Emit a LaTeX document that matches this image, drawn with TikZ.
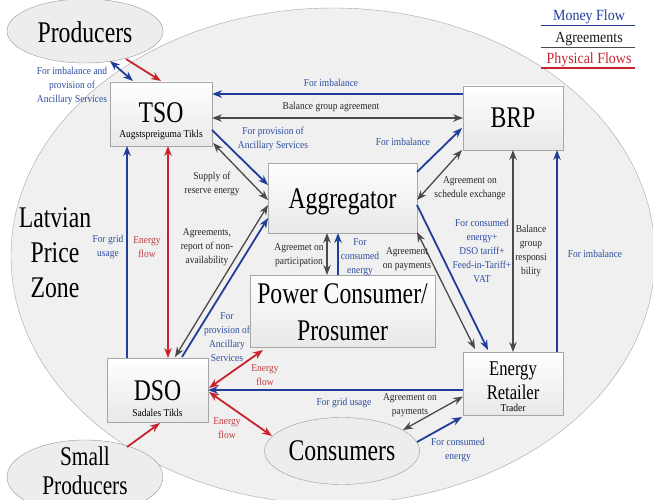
\documentclass[tikz,border=0pt]{standalone}
\usepackage{fontspec}
\setmainfont{Liberation Serif}[FakeStretch=0.9]
\newfontfamily\cfont{Liberation Serif}[FakeStretch=0.79]
\usetikzlibrary{arrows.meta,calc,shapes.geometric}
\definecolor{mblue}{HTML}{1F3D99}
\definecolor{mred}{HTML}{C8232C}
\definecolor{mgray}{HTML}{4A4A4A}
\definecolor{lblue}{HTML}{2B4C9E}
\definecolor{lred}{HTML}{C23A3A}
\tikzset{
 box/.style={draw=black!35, top color=white, bottom color=black!9, inner sep=0pt, outer sep=0pt},
 oval/.style={ellipse, draw=black!40, fill=black!7, inner sep=0pt, outer sep=0pt},
 big/.style={font=\cfont\fontsize{30}{36}\selectfont, inner sep=0pt, anchor=base},
 mid/.style={font=\cfont\fontsize{21}{25}\selectfont, inner sep=0pt, anchor=base},
 sm/.style={font=\fontsize{10.5}{14}\selectfont, align=center, inner sep=0pt},
 sub/.style={font=\fontsize{10.5}{14}\selectfont, inner sep=0pt, anchor=base},
 bl/.style={sm, text=lblue},
 rl/.style={sm, text=lred},
 gl/.style={sm, text=black!85},
 leg/.style={font=\fontsize{15.5}{18}\selectfont, inner sep=0pt},
 money/.style={draw=mblue, line width=1.8pt},
 agr/.style={draw=mgray, line width=1.3pt},
 phys/.style={draw=mred, line width=1.8pt},
 >={Stealth[length=10pt,width=7.5pt]},
}
\begin{document}
\begin{tikzpicture}[x=1pt,y=-1pt]
\useasboundingbox (0,0) rectangle (653,500);
\clip (0,0) rectangle (653,500);
\fill[white] (0,0) rectangle (653,500);
% zone
\node[ellipse, draw=black!35, fill=black!6, minimum width=644, minimum height=496, inner sep=0pt] (zone) at (333,256) {};
\node[big] (lpz1) at (55,227) {Latvian};
\node[big] (lpz2) at (55,262) {Price};
\node[big] (lpz3) at (55,297.5) {Zone};
% legend
\node[leg, text=mblue] (lg1) at (589,17) {Money Flow};
\node[leg, text=black!90] (lg2) at (589,39) {Agreements};
\node[leg, text=mred] (lg3) at (589,60) {Physical Flows};
\draw[mblue, line width=1.5pt] (541,25.5) -- (635,25.5);
\draw[mgray, line width=1.5pt] (541,47.5) -- (635,47.5);
\draw[mred, line width=1.5pt] (541,68) -- (635,68);
% outer ovals
\node[oval, minimum width=156, minimum height=64] (prod) at (85,31) {};
\node[big] (prodt) at (85,43) {Producers};
\node[oval, minimum width=155, minimum height=67] (cons) at (342,451) {};
\node[big] (const) at (342,460) {Consumers};
\node[oval, minimum width=156, minimum height=74] (sprod) at (85,477) {};
\node[big, font=\cfont\fontsize{27}{30}\selectfont] (sprodt1) at (85,465.5) {Small};
\node[big, font=\cfont\fontsize{27}{30}\selectfont] (sprodt2) at (85,494.5) {Producers};
% boxes
\node[box, minimum width=102, minimum height=64] (tso) at (161,114) {};
\node[big] (tsot) at (161,122.5) {TSO};
\node[sub] (tsos) at (161,137.5) {Augstspreiguma Tikls};
\node[box, minimum width=100, minimum height=64] (brp) at (513,118) {};
\node[big] (brpt) at (513,128) {BRP};
\node[box, minimum width=149, minimum height=70] (agg) at (342.5,198) {};
\node[big] (aggt) at (342.5,208) {Aggregator};
\node[box, minimum width=185, minimum height=72] (pc) at (342.5,311) {};
\node[big] (pct1) at (342.5,303) {Power Consumer/};
\node[big] (pct2) at (342.5,340) {Prosumer};
\node[box, minimum width=101, minimum height=64] (dso) at (157.5,390) {};
\node[big] (dsot) at (157.5,400) {DSO};
\node[sub] (dsos) at (157.5,416.5) {Sadales Tikls};
\node[box, minimum width=100, minimum height=63] (er) at (513,383.5) {};
\node[mid] (ert1) at (513,375) {Energy};
\node[mid] (ert2) at (513,399.5) {Retailer};
\node[sub] (ert3) at (513,411) {Trader};
% connectors
\draw[money,<->] ($(prod.center)+(25,30)$) -- ($(tso.north west)+(23,-1)$);
\node[bl] (l1) at (72,86) {For imbalance and\\provision of\\Ancillary Services};
\draw[phys,->] ($(prod.center)+(41,28)$) -- ($(tso.north)+(0,-1)$);
\draw[money,->] ($(brp.west)+(0,-24)$) -- ($(tso.east)+(0,-20)$);
\node[bl] (l3) at (331,83) {For imbalance};
\draw[agr,<->] ($(tso.east)+(0,4)$) -- (brp.west);
\node[gl] (l4) at (331,107) {Balance group agreement};
\draw[money,->] ($(tso.east)+(0,16)$) -- ($(agg.west)+(0,-13)$);
\node[bl] (l5) at (273,139) {For provision of\\Ancillary Services};
\draw[agr,<->] ($(tso.south east)+(1,-3)$) -- ($(agg.west)+(0,2)$);
\node[gl] (l6) at (212,184) {Supply of\\reserve energy};
\draw[agr,<->] ($(dso.north)+(17.5,-1)$) -- ($(agg.west)+(0,7)$);
\node[gl] (l7) at (207,247) {Agreements,\\report of non-\\availability};
\draw[money,->] ($(dso.north)+(24.5,-1)$) -- ($(agg.west)+(0,20)$);
\node[bl] (l8) at (227,337) {For\\provision of\\Ancillary\\Services};
\draw[money,->] ($(dso.north west)+(20,0)$) -- ($(tso.south west)+(17,0)$);
\node[bl] (l9) at (108,247) {For grid\\usage};
\draw[phys,<->] ($(tso.south west)+(58,0)$) -- ($(dso.north west)+(61,0)$);
\node[rl] (l10) at (147,247) {Energy\\flow};
\draw[money,->] ($(agg.north east)+(0,9)$) -- ($(brp.south west)+(-1,-22)$);
\node[bl] (l11) at (403,142) {For imbalance};
\draw[agr,<->] ($(agg.east)+(0,2)$) -- ($(brp.south west)+(-1,0)$);
\node[gl] (l12) at (470,188) {Agreement on\\schedule exchange};
\draw[money,->] ($(agg.east)+(0,7)$) -- ($(er.north west)+(25,-2)$);
\node[bl] (l13) at (482,251) {For consumed\\energy+\\DSO tariff+\\Feed-in-Tariff+\\VAT};
\draw[agr,<->] ($(agg.south east)+(0,-1)$) -- ($(er.north west)+(12,-3)$);
\node[gl] (l14) at (407,259) {Agreement\\on payments};
\draw[agr,<->] ($(agg.south)+(-15.5,0)$) -- ($(pc.north)+(-15.5,0)$);
\node[gl] (l15) at (299,255) {Agreemet on\\participation};
\draw[money,->] ($(pc.north)+(-4.5,0)$) -- ($(agg.south)+(-4.5,0)$);
\node[bl] (l16) at (360,257) {For\\consumed\\energy};
\draw[agr,<->] (brp.south) -- (er.north);
\node[gl] (l17) at (531,251) {Balance\\group\\responsi\\bility};
\draw[money,->] ($(er.north east)+(-6,0)$) -- ($(brp.south east)+(-6,0)$);
\node[bl] (l18) at (595,254) {For imbalance};
\draw[money,->] ($(er.west)+(0,6.5)$) -- (dso.east);
\node[bl] (l19) at (344,403) {For grid usage};
\draw[phys,<->] ($(dso.east)+(1,-2)$) -- ($(pc.south west)+(13,3)$);
\node[rl] (l20) at (265,375) {Energy\\flow};
\draw[phys,<->] ($(dso.east)+(1,2)$) -- ($(cons.center)+(-70,-15)$);
\node[rl] (l21) at (227,428) {Energy\\flow};
\draw[phys,->] ($(sprod.center)+(42,-30)$) -- ($(dso.south)+(2.5,1)$);
\draw[agr,<->] ($(er.west)+(0,13)$) -- ($(cons.center)+(61,-21)$);
\node[gl] (l23) at (410,405) {Agreement on\\payments};
\draw[money,->] ($(cons.center)+(75,-9)$) -- ($(er.south west)+(-1,2)$);
\node[bl] (l24) at (458,450) {For consumed\\energy};
\end{tikzpicture}
\end{document}
